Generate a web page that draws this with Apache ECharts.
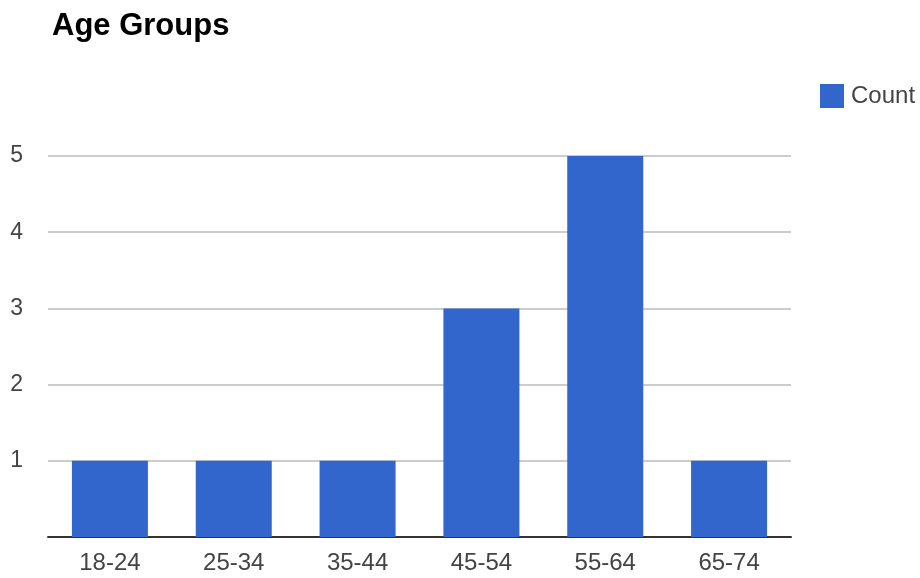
<!DOCTYPE html>
<html>
<head>
<meta charset="utf-8">
<script src="https://cdn.jsdelivr.net/npm/echarts@6/dist/echarts.min.js"></script>
<style>
  html, body { margin: 0; padding: 0; background: #fff; }
  #chart { width: 920px; height: 578px; }
</style>
</head>
<body>
<div id="chart"></div>
<script>
// age groups and how many people fall in each
const ageGroups = ['18-24', '25-34', '35-44', '45-54', '55-64', '65-74'];
const counts = [1, 1, 1, 3, 5, 1];
const seriesName = 'Count';

const chart = echarts.init(document.getElementById('chart'));
chart.setOption({
  animation: false,
  title: {
    text: 'Age Groups',
    left: 47,
    top: 6,
    textStyle: {
      fontFamily: 'Liberation Sans, Arial, sans-serif',
      fontWeight: 'bold',
      fontSize: 31,
      color: '#000'
    }
  },
  legend: {
    data: [seriesName],
    left: 815,
    top: 79,
    itemWidth: 24,
    itemHeight: 24,
    itemGap: 10,
    icon: 'rect',
    textStyle: {
      fontFamily: 'Liberation Sans, Arial, sans-serif',
      fontSize: 24,
      color: '#444',
      padding: [0, 0, 0, 2]
    }
  },
  grid: {
    left: 48,
    right: 129,
    top: 156,
    bottom: 41
  },
  xAxis: {
    type: 'category',
    data: ageGroups,
    axisTick: { show: false },
    axisLine: { lineStyle: { color: '#333', width: 2 } },
    axisLabel: {
      fontFamily: 'Liberation Sans, Arial, sans-serif',
      fontSize: 24,
      color: '#444',
      margin: 14
    }
  },
  yAxis: {
    type: 'value',
    min: 0,
    max: 5,
    interval: 1,
    axisLine: { show: false },
    axisTick: { show: false },
    splitLine: { lineStyle: { color: '#cccccc', width: 2 } },
    axisLabel: {
      fontFamily: 'Liberation Sans, Arial, sans-serif',
      fontSize: 23,
      color: '#444',
      margin: 25,
      showMinLabel: false
    }
  },
  series: [
    {
      name: seriesName,
      type: 'bar',
      data: counts,
      barWidth: 76,
      itemStyle: { color: '#3366cc' }
    }
  ]
});
</script>
</body>
</html>
